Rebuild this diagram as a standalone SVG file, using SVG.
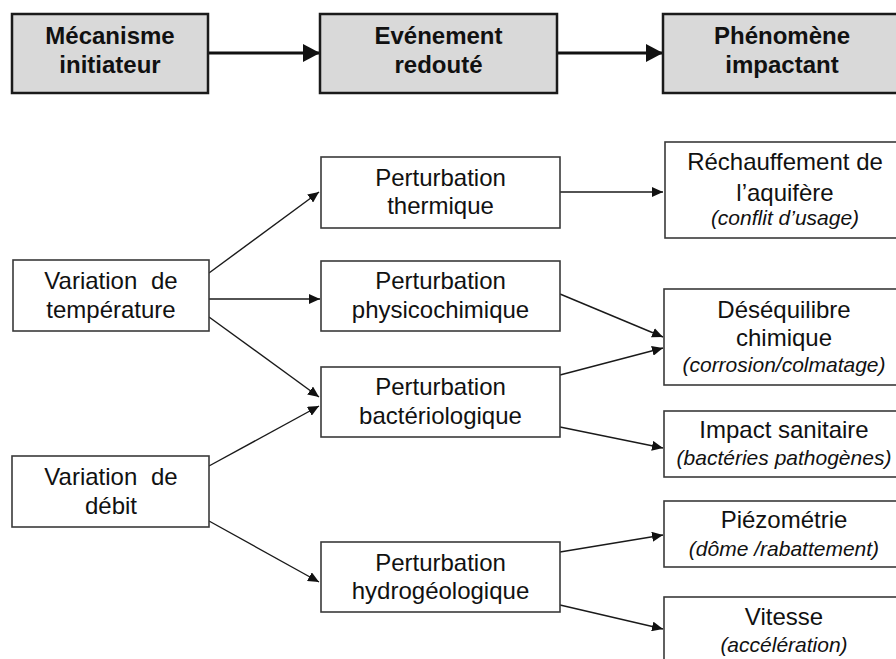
<svg xmlns="http://www.w3.org/2000/svg" width="896" height="659" viewBox="0 0 896 659">
<style>
.hdr{fill:#d9d9d9;stroke:#1a1a1a;stroke-width:2.5}
.box{fill:#ffffff;stroke:#3a3a3a;stroke-width:1.6}
text{font-family:"Liberation Sans",Arial,sans-serif;fill:#111;text-anchor:middle}
.h{font-size:24px;font-weight:bold}
.t{font-size:24px}
.i{font-size:21px;font-style:italic}
.c{fill:none;stroke:#1a1a1a;stroke-width:1.4}
.ch{fill:none;stroke:#111;stroke-width:3}
</style>
<defs>
<marker id="a" markerUnits="userSpaceOnUse" markerWidth="12" markerHeight="10" refX="11" refY="5" orient="auto">
<path d="M0,0 L11,5 L0,10 Z" fill="#111"/>
</marker>
<marker id="ah" markerUnits="userSpaceOnUse" markerWidth="18" markerHeight="18" refX="17" refY="9" orient="auto">
<path d="M0,0 L17,9 L0,18 Z" fill="#111"/>
</marker>
</defs>

<g id="connectors">
<line class="ch" x1="208" y1="53" x2="320" y2="53" marker-end="url(#ah)"/>
<line class="ch" x1="557" y1="53" x2="663" y2="53" marker-end="url(#ah)"/>
<line class="c" x1="209" y1="273" x2="319" y2="192" marker-end="url(#a)"/>
<line class="c" x1="209" y1="299" x2="320" y2="299" marker-end="url(#a)"/>
<line class="c" x1="209" y1="317" x2="319" y2="397" marker-end="url(#a)"/>
<line class="c" x1="209" y1="466" x2="319" y2="406" marker-end="url(#a)"/>
<line class="c" x1="209" y1="521" x2="319" y2="582" marker-end="url(#a)"/>
<line class="c" x1="560" y1="192" x2="663" y2="192" marker-end="url(#a)"/>
<line class="c" x1="560" y1="294" x2="663" y2="337" marker-end="url(#a)"/>
<line class="c" x1="560" y1="375" x2="663" y2="348" marker-end="url(#a)"/>
<line class="c" x1="560" y1="427" x2="663" y2="448" marker-end="url(#a)"/>
<line class="c" x1="560" y1="552" x2="663" y2="535" marker-end="url(#a)"/>
<line class="c" x1="560" y1="605" x2="663" y2="629" marker-end="url(#a)"/>
</g>

<g id="h1">
<rect class="hdr" x="12" y="14" width="196" height="79"/>
<text class="h" x="110" y="44">Mécanisme</text>
<text class="h" x="110" y="73">initiateur</text>
</g>
<g id="h2">
<rect class="hdr" x="320" y="14" width="237" height="79"/>
<text class="h" x="438.5" y="44">Evénement</text>
<text class="h" x="438.5" y="73">redouté</text>
</g>
<g id="h3">
<rect class="hdr" x="663" y="14" width="240" height="79"/>
<text class="h" x="782" y="44">Phénomène</text>
<text class="h" x="782" y="73">impactant</text>
</g>

<g id="temp">
<rect class="box" x="13" y="260" width="196" height="71"/>
<text class="t" x="111" y="289" word-spacing="7">Variation de</text>
<text class="t" x="111" y="318">température</text>
</g>
<g id="debit">
<rect class="box" x="12" y="456" width="197" height="71"/>
<text class="t" x="111" y="485" word-spacing="7">Variation de</text>
<text class="t" x="111" y="514">débit</text>
</g>

<g id="thermique">
<rect class="box" x="321" y="157" width="239" height="71"/>
<text class="t" x="440.5" y="186">Perturbation</text>
<text class="t" x="440.5" y="214">thermique</text>
</g>
<g id="physico">
<rect class="box" x="321" y="261" width="239" height="70"/>
<text class="t" x="440.5" y="289">Perturbation</text>
<text class="t" x="440.5" y="318">physicochimique</text>
</g>
<g id="bacterio">
<rect class="box" x="321" y="367" width="239" height="70"/>
<text class="t" x="440.5" y="395">Perturbation</text>
<text class="t" x="440.5" y="424">bactériologique</text>
</g>
<g id="hydro">
<rect class="box" x="321" y="542" width="239" height="70"/>
<text class="t" x="440.5" y="571">Perturbation</text>
<text class="t" x="440.5" y="599">hydrogéologique</text>
</g>

<g id="rechauffement">
<rect class="box" x="665" y="142" width="240" height="96"/>
<text class="t" x="785" y="170">Réchauffement de</text>
<text class="t" x="785" y="201">l’aquifère</text>
<text class="i" x="785" y="225">(conflit d’usage)</text>
</g>
<g id="desequilibre">
<rect class="box" x="664" y="289" width="240" height="96"/>
<text class="t" x="784" y="318">Déséquilibre</text>
<text class="t" x="784" y="346">chimique</text>
<text class="i" x="784" y="372">(corrosion/colmatage)</text>
</g>
<g id="sanitaire">
<rect class="box" x="664" y="411" width="240" height="66"/>
<text class="t" x="784" y="438">Impact sanitaire</text>
<text class="i" x="784" y="465">(bactéries pathogènes)</text>
</g>
<g id="piezometrie">
<rect class="box" x="664" y="501" width="240" height="66"/>
<text class="t" x="784" y="528">Piézométrie</text>
<text class="i" x="784" y="556">(dôme /rabattement)</text>
</g>
<g id="vitesse">
<rect class="box" x="664" y="597" width="240" height="80"/>
<text class="t" x="784" y="625">Vitesse</text>
<text class="i" x="784" y="652">(accélération)</text>
</g>
</svg>
